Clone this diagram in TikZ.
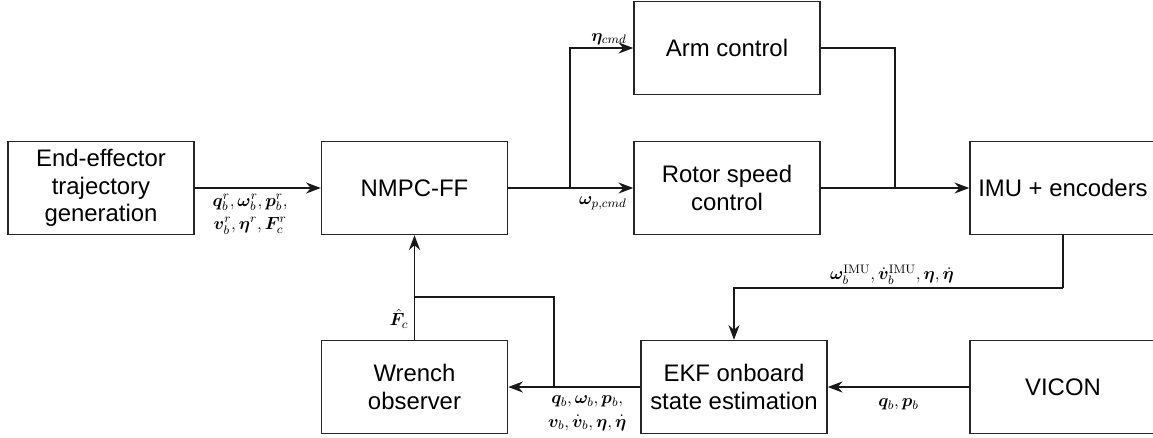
\RequirePackage{fix-cm}
\documentclass[tikz,border=0pt]{standalone}
\usepackage[no-math]{fontspec}
\setmainfont{Liberation Sans}
\usepackage{amsmath}
\usepackage{bm}
\usetikzlibrary{arrows.meta}
\tikzset{>={Stealth[scale=1.4]}}
\tikzset{
  block/.style={draw=black!85, line width=1pt, minimum width=4.65cm,
    minimum height=2.325cm, inner sep=0pt, align=center,
    font=\fontsize{17}{19.5}\selectfont},
  sig/.style={line width=1pt, draw=black!90},
  lbl/.style={inner sep=2pt, align=center, font=\fontsize{12.5}{16.5}\selectfont},
}

\begin{document}
\begin{tikzpicture}[x=0.025cm, y=-0.025cm]
  \clip (0,0) rectangle (1153,437);

  % 方框
  \node [block] (ee) at (101,188) {End-effector\\trajectory\\generation};
  \node [block] (nmpc) at (414.5,188) {NMPC-FF};
  \node [block] (arm) at (727,48) {Arm control};
  \node [block] (rotor) at (727,188) {Rotor speed\\control};
  \node [block] (imu) at (1063,188) {IMU + encoders};
  \node [block] (wrench) at (414.5,387) {Wrench\\observer};
  \node [block] (ekf) at (734,387) {EKF onboard\\state estimation};
  \node [block] (vicon) at (1063,387) {VICON};

  % 折点
  \coordinate (sA) at (570,188);
  \coordinate (sB) at (895,188);
  \coordinate (sC) at (1063,288);
  \coordinate (sD) at (554,387);
  \coordinate (sE) at (414.5,297);

  % 前向通道
  \draw[sig,->] (ee) -- (nmpc)
    node[lbl, below, pos=0.44, yshift=-2pt] (lRef)
    {$\bm{q}^r_b, \bm{\omega}^r_b, \bm{p}^r_b,$\\$\bm{v}^r_b, \bm{\eta}^r, \bm{F}^r_c$};
  \draw[sig,->] (nmpc) -- (rotor)
    node[lbl, pos=1, below left, xshift=-0.08cm, yshift=-4pt] (lRot) {$\bm{\omega}_{p,cmd}$};
  \draw[sig,->] (sA) |- (arm)
    node[lbl, pos=1, above left, xshift=-0.08cm] (lArm) {$\bm{\eta}_{cmd}$};
  \draw[sig] (arm) -| (sB);
  \draw[sig,->] (rotor) -- (imu);

  % 反馈通道
  \draw[sig] (imu) -- (sC);
  \draw[sig,->] (sC) -| (ekf)
    node[lbl, pos=0.26, above] (lImu)
    {$\bm{\omega}^{\mathrm{IMU}}_b, \dot{\bm{v}}^{\mathrm{IMU}}_b, \bm{\eta}, \dot{\bm{\eta}}$};
  \draw[sig,->] (vicon) -- (ekf)
    node[lbl, midway, below, yshift=-6pt] (lVic) {$\bm{q}_b, \bm{p}_b$};
  \draw[sig,->] (ekf) -- (wrench)
    node[lbl, pos=0.08, below left, yshift=-4pt] (lEst)
    {$\bm{q}_b, \bm{\omega}_b, \bm{p}_b,$\\$\bm{v}_b, \dot{\bm{v}}_b, \bm{\eta}, \dot{\bm{\eta}}$};
  \draw[sig] (sD) |- (sE);
  \draw[sig,->] (wrench) -- (nmpc)
    node[lbl, pos=0.2, left, xshift=-2pt] (lF) {$\hat{\bm{F}}_c$};
\end{tikzpicture}
\end{document}
